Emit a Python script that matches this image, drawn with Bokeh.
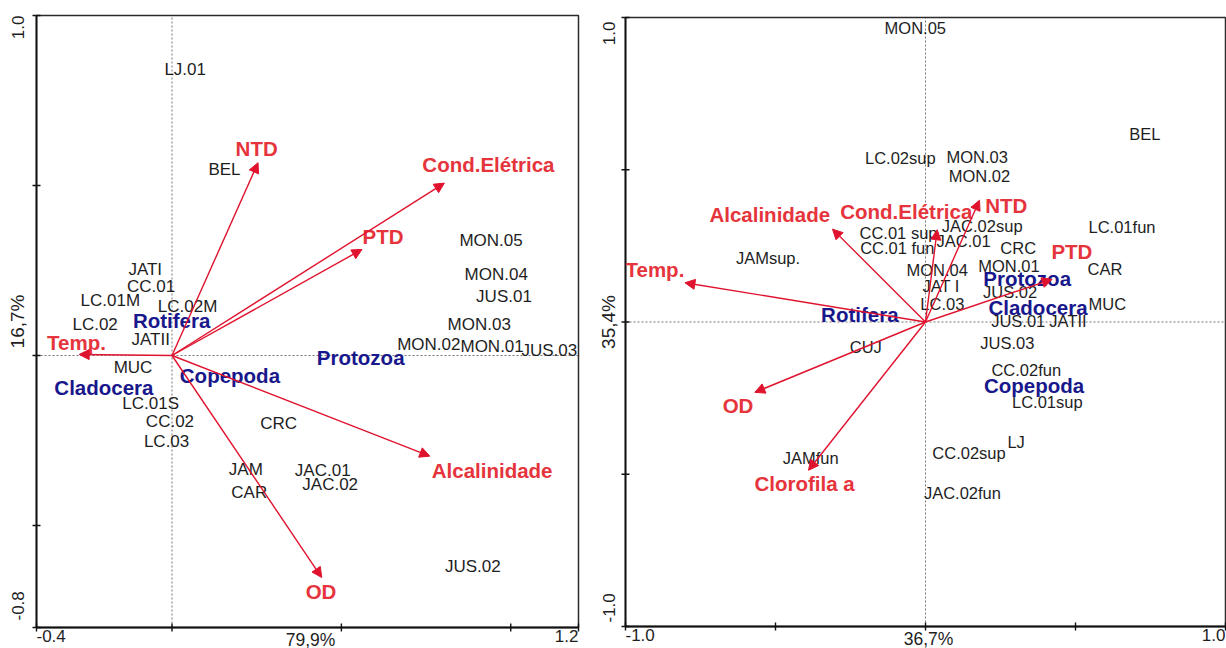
import math
from bokeh.plotting import figure
from bokeh.models import ColumnDataSource, Range1d, Arrow, NormalHead
from bokeh.layouts import row
from bokeh.embed import file_html
from bokeh.resources import INLINE
from bokeh.core.properties import value

# ---------------- Panel 1 data ----------------
p1_sites = ["LJ.01", "BEL", "MON.05", "MON.04", "JUS.01", "MON.03", "MON.02", "MON.01", "JUS.03",
            "JATI", "CC.01", "LC.01M", "LC.02M", "LC.02", "JATII", "MUC", "LC.01S", "CC.02", "LC.03",
            "CRC", "JAM", "CAR", "JAC.01", "JAC.02", "JUS.02"]
p1_site_x = [0.039, 0.155, 0.942, 0.957, 0.980, 0.907, 0.758, 0.945, 1.114,
             -0.079, -0.062, -0.182, 0.046, -0.227, -0.063, -0.115, -0.063, -0.006, -0.016,
             0.315, 0.218, 0.228, 0.445, 0.467, 0.888]
p1_site_y = [0.840, 0.546, 0.338, 0.238, 0.175, 0.090, 0.032, 0.027, 0.015,
             0.254, 0.202, 0.163, 0.143, 0.090, 0.048, -0.036, -0.142, -0.195, -0.252,
             -0.200, -0.335, -0.402, -0.338, -0.380, -0.622]
p1_env = ["NTD", "Cond.Elétrica", "PTD", "Temp.", "Alcalinidade", "OD"]
p1_env_x = [0.254, 0.804, 0.561, -0.274, 0.761, 0.442]
p1_env_y = [0.567, 0.507, 0.312, 0.003, -0.296, -0.653]
p1_env_lx = [0.250, 0.934, 0.623, -0.282, 0.945, 0.440]
p1_env_ly = [0.610, 0.561, 0.349, 0.039, -0.338, -0.694]
p1_spp = ["Rotifera", "Protozoa", "Copepoda", "Cladocera"]
p1_spp_x = [-0.001, 0.557, 0.171, -0.201]
p1_spp_y = [0.103, -0.005, -0.058, -0.094]
p1_xlim = (-0.4, 1.2)
p1_ylim = (-0.8, 1.0)
p1_xticks = [-0.4, 0.0, 0.5, 1.0, 1.2]
p1_yticks = [-0.8, -0.5, 0.0, 0.5, 1.0]
p1_xlabels = ["-0.4", "79,9%", "1.2"]
p1_ylabels = ["-0.8", "16,7%", "1.0"]

# ---------------- Panel 2 data ----------------
p2_sites = ["MON.05", "BEL", "LC.02sup", "MON.03", "MON.02", "LC.01fun", "JAC.02sup", "CC.01 sup",
            "JAC.01", "CC.01 fun", "CRC", "JAMsup.", "MON.04", "MON.01", "CAR", "JAT I", "JUS.02",
            "LC.03", "MUC", "JUS.01", "JATII", "CUJ", "JUS.03", "CC.02fun", "LC.01sup", "LJ",
            "CC.02sup", "JAMfun", "JAC.02fun"]
p2_site_x = [-0.034, 0.731, -0.084, 0.172, 0.180, 0.655, 0.189, -0.090,
             0.127, -0.094, 0.309, -0.525, 0.039, 0.278, 0.598, 0.052, 0.282,
             0.056, 0.606, 0.309, 0.475, -0.199, 0.273, 0.336, 0.406, 0.302,
             0.145, -0.383, 0.123]
p2_site_y = [0.964, 0.619, 0.537, 0.543, 0.479, 0.312, 0.316, 0.292,
             0.266, 0.244, 0.242, 0.210, 0.171, 0.185, 0.174, 0.117, 0.099,
             0.058, 0.058, 0.004, 0.004, -0.081, -0.068, -0.156, -0.264, -0.393,
             -0.430, -0.448, -0.562]
p2_env = ["Temp.", "Alcalinidade", "Cond.Elétrica", "NTD", "PTD", "OD", "Clorofila a"]
p2_env_x = [-0.802, -0.310, 0.039, 0.180, 0.422, -0.569, -0.390]
p2_env_y = [0.129, 0.305, 0.303, 0.400, 0.140, -0.231, -0.487]
p2_env_lx = [-0.902, -0.519, -0.064, 0.269, 0.488, -0.625, -0.403]
p2_env_ly = [0.171, 0.353, 0.364, 0.384, 0.232, -0.274, -0.532]
p2_spp = ["Rotifera", "Protozoa", "Cladocera", "Copepoda"]
p2_spp_x = [-0.219, 0.339, 0.375, 0.362]
p2_spp_y = [0.025, 0.144, 0.049, -0.209]
p2_xlim = (-1.0, 1.0)
p2_ylim = (-1.0, 1.0)
p2_xticks = [-1.0, -0.5, 0.0, 0.5, 1.0]
p2_yticks = [-1.0, -0.5, 0.0, 0.5, 1.0]
p2_xlabels = ["-1.0", "36,7%", "1.0"]
p2_ylabels = ["-1.0", "35,4%", "1.0"]

FONT = value("Liberation Sans")
RED = "#E6343C"
ARROW = "#E0132E"
NAVY = "#18188C"
INK = "#1E1E1E"


def panel(sites, sx, sy, env, ex, ey, elx, ely, spp, px, py, xlim, ylim, xt, yt, xl, yl,
          width, height, bl, br, bt, bb, site_fs, ylab_x, ytop_off, ybot_off):
    # bl/br/bt/bb: pixel gaps between the canvas edge and the axis box
    ux = (width - bl - br) / (xlim[1] - xlim[0])
    uy = (height - bt - bb) / (ylim[1] - ylim[0])
    p = figure(width=width, height=height, output_backend="svg", toolbar_location=None,
               x_range=Range1d(xlim[0] - bl / ux, xlim[1] + br / ux),
               y_range=Range1d(ylim[0] - bb / uy, ylim[1] + bt / uy),
               x_axis_location=None, y_axis_location=None,
               min_border=0, min_border_left=0, min_border_right=0,
               min_border_top=0, min_border_bottom=0)
    p.grid.visible = False
    p.outline_line_color = None
    p.background_fill_color = "white"
    p.border_fill_color = "white"

    # dotted zero lines
    p.segment(x0=[0, xlim[0]], y0=[ylim[0], 0], x1=[0, xlim[1]], y1=[ylim[1], 0],
              line_color="#777777", line_width=1, line_dash="2 2")

    # axis box
    p.quad(left=[xlim[0]], right=[xlim[1]], bottom=[ylim[0]], top=[ylim[1]],
           fill_color=None, line_color="#2a2a2a", line_width=1.5)
    p.segment(x0=[xlim[0], xlim[0]], y0=[ylim[0], ylim[0]], x1=[xlim[1], xlim[0]], y1=[ylim[0], ylim[1]],
              line_color="#111111", line_width=1.8)
    # ticks
    p.scatter(x=xt, y=[ylim[0]] * len(xt), marker="dash", size=8, angle=math.pi / 2,
              line_color="#111111", line_width=1.4)
    p.scatter(x=[xlim[0]] * len(yt), y=yt, marker="dash", size=8,
              line_color="#111111", line_width=1.4)

    # arrows
    arr = ColumnDataSource(dict(x0=[0.0] * len(ex), y0=[0.0] * len(ex), x1=ex, y1=ey))
    p.add_layout(Arrow(source=arr, x_start="x0", y_start="y0", x_end="x1", y_end="y1",
                       line_color=ARROW, line_width=1.4,
                       end=NormalHead(size=10, fill_color=ARROW, line_color=ARROW, line_width=1)))

    p.text(x=sx, y=sy, text=sites, text_font=FONT, text_font_size=value(site_fs),
           text_color=INK, text_align="center", text_baseline="middle")
    p.text(x=elx, y=ely, text=env, text_font=FONT, text_font_size=value("20.5px"),
           text_font_style="bold", text_color=RED, text_align="center", text_baseline="middle")
    p.text(x=px, y=py, text=spp, text_font=FONT, text_font_size=value("20.5px"),
           text_font_style="bold", text_color=NAVY, text_align="center", text_baseline="middle")

    # axis end labels (bottom)
    ylab = ylim[0] - 2 / uy
    xmid = (xlim[0] + xlim[1]) / 2 + 3 / ux
    p.text(x=[xlim[0]], y=[ylab], text=[xl[0]], text_font=FONT, text_font_size=value("17px"),
           text_color=INK, text_align="left", text_baseline="top")
    p.text(x=[xmid], y=[ylab], text=[xl[1]], text_font=FONT, text_font_size=value("17.5px"),
           text_color=INK, text_align="center", text_baseline="top")
    p.text(x=[xlim[1]], y=[ylab], text=[xl[2]], text_font=FONT, text_font_size=value("17px"),
           text_color=INK, text_align="right", text_baseline="top")
    # axis end labels (left, rotated)
    xr = xlim[0] - ylab_x / ux
    ymid = (ylim[0] + ylim[1]) / 2
    p.text(x=[xr], y=[ylim[0] + ybot_off / uy], text=[yl[0]], angle=math.pi / 2, text_font=FONT,
           text_font_size=value("17px"), text_color=INK, text_align="left", text_baseline="alphabetic")
    p.text(x=[xr], y=[ymid], text=[yl[1]], angle=math.pi / 2, text_font=FONT,
           text_font_size=value("19px"), text_color=INK, text_align="center", text_baseline="alphabetic")
    p.text(x=[xr], y=[ylim[1] - ytop_off / uy], text=[yl[2]], angle=math.pi / 2, text_font=FONT,
           text_font_size=value("17px"), text_color=INK, text_align="right", text_baseline="alphabetic")
    return p


p1 = panel(p1_sites, p1_site_x, p1_site_y, p1_env, p1_env_x, p1_env_y, p1_env_lx, p1_env_ly,
           p1_spp, p1_spp_x, p1_spp_y, p1_xlim, p1_ylim, p1_xticks, p1_yticks, p1_xlabels, p1_ylabels,
           width=590, height=648, bl=36, br=12, bt=15, bb=21, site_fs="17px",
           ylab_x=19, ytop_off=0, ybot_off=7)
p2 = panel(p2_sites, p2_site_x, p2_site_y, p2_env, p2_env_x, p2_env_y, p2_env_lx, p2_env_ly,
           p2_spp, p2_spp_x, p2_spp_y, p2_xlim, p2_ylim, p2_xticks, p2_yticks, p2_xlabels, p2_ylabels,
           width=636, height=648, bl=35, br=1, bt=17, bb=22, site_fs="16.5px",
           ylab_x=17, ytop_off=4, ybot_off=4)

layout = row(p1, p2)
open("out.html", "w").write(file_html(layout, INLINE))
